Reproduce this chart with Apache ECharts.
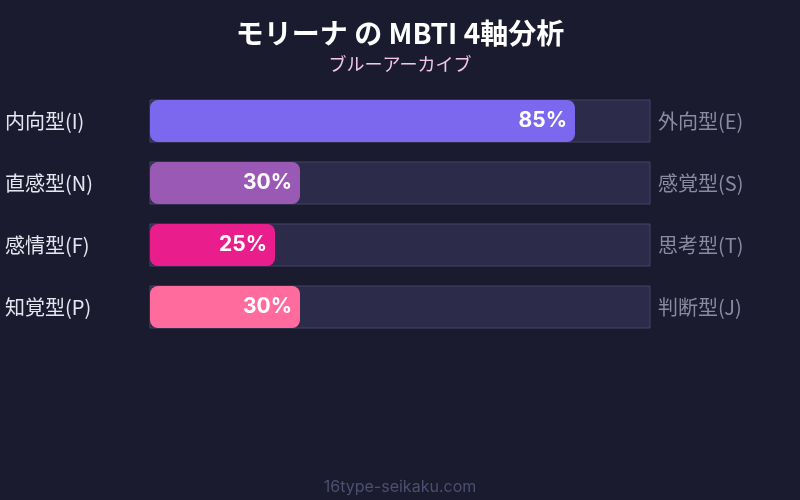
<!DOCTYPE html>
<html lang="ja">
<head>
<meta charset="UTF-8">
<title>MBTI 4軸分析</title>
<script src="https://cdn.jsdelivr.net/npm/echarts@6/dist/echarts.min.js"></script>
<style>
  html, body { margin: 0; padding: 0; background: #1a1b2e; }
  #chart { width: 800px; height: 500px; }
</style>
</head>
<body>
<div id="chart"></div>
<script>
// 左側ラベル・右側ラベル・値
var leftLabels = ['内向型(I)', '直感型(N)', '感情型(F)', '知覚型(P)'];
var rightLabels = ['外向型(E)', '感覚型(S)', '思考型(T)', '判断型(J)'];
var values = [85, 30, 25, 30];
var barColors = ['#7b68ee', '#9b59b6', '#e91e8c', '#ff6b9d'];

var fontJP = '"Noto Sans CJK JP", "Noto Sans", sans-serif';

var chart = echarts.init(document.getElementById('chart'));

chart.setOption({
    backgroundColor: '#1a1b2e',
    animation: false,
    title: [
        {
            text: 'モリーナ の MBTI 4軸分析',
            left: 'center',
            top: 14,
            textStyle: { color: '#ffffff', fontSize: 28, fontWeight: 'bold', fontFamily: fontJP }
        },
        {
            text: 'ブルーアーカイブ',
            left: 'center',
            top: 50,
            textStyle: { color: '#f5c6e8', fontSize: 18, fontWeight: 'normal', fontFamily: fontJP }
        },
        {
            text: '16type-seikaku.com',
            left: 'center',
            top: 474,
            textStyle: { color: '#4e4e70', fontSize: 16, fontWeight: 'normal', fontFamily: 'Inter, sans-serif' }
        }
    ],
    grid: { left: 150, right: 150, top: 90, height: 248 },
    xAxis: {
        type: 'value',
        min: 0,
        max: 100,
        show: false
    },
    yAxis: [
        {
            type: 'category',
            inverse: true,
            data: leftLabels,
            axisLine: { show: false },
            axisTick: { show: false },
            axisLabel: {
                color: '#e6e6f0',
                fontSize: 20,
                fontFamily: fontJP,
                align: 'left',
                margin: 145,
                padding: [0, 0, 4, 0]
            }
        },
        {
            type: 'category',
            inverse: true,
            position: 'right',
            data: rightLabels,
            axisLine: { show: false },
            axisTick: { show: false },
            axisLabel: {
                color: '#8a8aa0',
                fontSize: 20,
                fontFamily: fontJP,
                align: 'left',
                margin: 8,
                padding: [0, 0, 4, 0]
            }
        }
    ],
    series: [
        {
            type: 'bar',
            barWidth: 42,
            data: values.map(function (v, i) {
                return { value: v, itemStyle: { color: barColors[i] } };
            }),
            showBackground: true,
            backgroundStyle: {
                color: '#2c2b4a',
                borderColor: '#45456a',
                borderWidth: 1
            },
            itemStyle: { borderRadius: 8 },
            label: {
                show: true,
                position: 'insideRight',
                distance: 8,
                formatter: '{c}%',
                color: '#ffffff',
                fontSize: 21,
                fontWeight: 'bold',
                fontFamily: 'Inter, sans-serif'
            }
        }
    ]
});
</script>
</body>
</html>
